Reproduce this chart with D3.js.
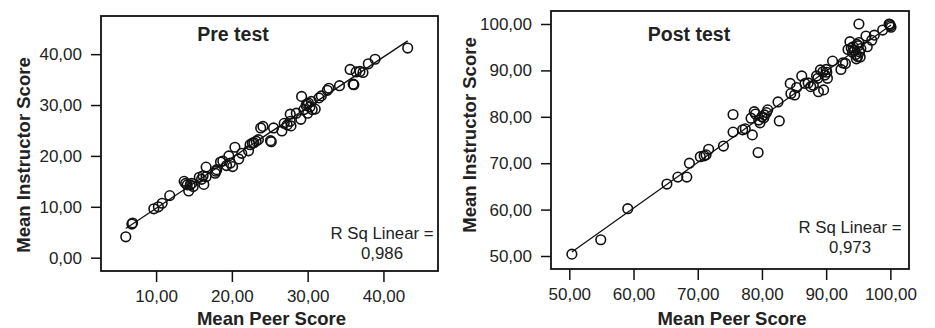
<!DOCTYPE html>
<html>
<head>
<meta charset="utf-8">
<script src="https://cdn.jsdelivr.net/npm/d3@7"></script>
<style>
  body { margin: 0; background: #fff; }
  svg { display: block; }
  text { font-family: "Liberation Sans", Arial, Helvetica, sans-serif; fill: #222; }
</style>
</head>
<body>
<div id="chart"></div>
<script>
// Mean Peer Score vs Mean Instructor Score
const prePoints = [
  [6.0,4.1],[6.8,6.6],[6.9,6.8],[9.7,9.6],[10.3,10.0],[10.8,10.7],[11.8,12.2],
  [13.7,15.0],[13.9,14.6],[14.1,14.3],[14.3,13.1],[14.5,14.3],[14.7,14.6],[14.9,14.0],
  [15.7,15.8],[16.0,15.4],[16.2,16.1],[16.3,14.4],[16.6,15.9],[16.6,17.8],
  [17.8,16.6],[17.9,17.0],[18.0,17.3],[18.5,18.8],[18.8,19.0],[19.3,18.1],[19.6,20.0],
  [19.8,18.6],[20.1,17.9],[20.4,21.7],[20.9,19.4],[21.3,20.5],
  [22.2,21.0],[22.4,22.2],[22.7,22.5],[22.9,22.6],[23.2,22.9],[23.5,23.2],[23.8,25.5],
  [24.1,25.8],[25.1,23.0],[25.2,22.8],[25.5,25.5],
  [26.6,24.9],[26.9,26.4],[27.3,26.1],[27.7,26.8],[27.8,25.9],[27.7,28.2],[28.5,28.4],
  [29.1,27.2],[29.2,31.7],[29.5,29.1],[29.8,29.9],[30.0,28.4],[30.1,30.4],[30.5,30.7],
  [30.6,29.1],[31.0,29.2],[29.9,30.2],[30.3,29.6],
  [31.5,31.4],[31.8,31.8],[32.6,32.9],[32.8,33.3],[34.2,33.8],[35.6,37.0],[36.0,34.1],
  [36.1,34.0],[36.4,36.5],[36.9,36.6],[37.3,36.4],[38.0,38.1],[38.9,39.0],[43.2,41.2]
];

const postPoints = [
  [50.4,50.4],[54.9,53.5],[59.1,60.2],[65.2,65.5],[66.9,67.0],[68.3,67.0],[68.7,70.0],
  [70.4,71.4],[71.0,71.6],[71.3,71.8],[71.7,73.0],[74.0,73.7],
  [75.5,80.5],[75.5,76.7],[77.0,77.2],[77.4,77.4],[78.5,76.1],[78.3,79.7],[78.8,81.1],
  [79.0,80.6],[79.4,72.3],[79.7,78.7],[79.5,79.3],[80.0,80.0],[80.4,80.4],[80.7,80.9],
  [80.9,81.5],[80.3,79.8],
  [82.5,83.2],[82.7,79.1],[84.4,87.2],[84.5,85.0],[85.1,84.7],[85.4,86.3],[86.2,88.8],
  [86.7,87.2],[87.2,87.3],[87.6,86.5],[88.0,86.8],[88.5,88.8],[88.7,88.3],[88.8,85.4],
  [89.1,90.1],[89.5,89.7],[89.6,85.8],[90.0,90.2],[90.2,88.3],[89.8,89.0],[90.1,89.6],
  [91.0,92.0],[92.3,90.2],[92.6,91.6],[93.0,91.5],[93.4,94.5],[93.7,96.2],[93.9,94.8],
  [94.2,95.1],[94.4,94.3],[94.6,93.4],[94.7,92.5],[94.9,93.0],[95.0,95.3],[95.1,96.0],
  [95.2,94.0],[95.4,94.7],[94.8,95.6],[95.3,92.9],[94.1,93.9],[95.1,100.0],
  [96.4,95.1],[96.2,97.4],[97.1,96.5],[97.5,97.6],[98.8,98.7],[99.9,99.9],[100.0,99.6],
  [100.1,99.3],[99.8,100.0]
];

const preXTicks = [10, 20, 30, 40];
const preYTicks = [0, 10, 20, 30, 40];
const postXTicks = [50, 60, 70, 80, 90, 100];
const postYTicks = [50, 60, 70, 80, 90, 100];

const preRSq = "0,986";
const postRSq = "0,973";

const xTitle = "Mean Peer Score";
const yTitle = "Mean Instructor Score";

const width = 935, height = 328;

const locale = d3.formatLocale({ decimal: ",", thousands: ".", grouping: [3], currency: ["", ""] });
const fmt = locale.format(".2f");

const svg = d3.select("#chart").append("svg")
  .attr("width", width)
  .attr("height", height);

// least squares fit, drawn between min and max x like SPSS does
function fitLine(points) {
  const mx = d3.mean(points, d => d[0]);
  const my = d3.mean(points, d => d[1]);
  const sxy = d3.sum(points, d => (d[0] - mx) * (d[1] - my));
  const sxx = d3.sum(points, d => (d[0] - mx) * (d[0] - mx));
  const b = sxy / sxx, a = my - b * mx;
  const [x0, x1] = d3.extent(points, d => d[0]);
  return [[x0, a + b * x0], [x1, a + b * x1]];
}

function drawPanel(p) {
  const x = d3.scaleLinear().domain(p.xDomain).range([p.left, p.right]);
  const y = d3.scaleLinear().domain(p.yDomain).range([p.bottom, p.top]);

  const g = svg.append("g");

  g.append("g")
    .attr("transform", "translate(" + p.left + ",0)")
    .call(d3.axisLeft(y).tickValues(p.yTicks).tickFormat(fmt).tickSize(10).tickPadding(9))
    .call(a => a.select(".domain").remove())
    .call(a => a.selectAll("line").attr("stroke", "#111").attr("stroke-width", 1.5))
    .call(a => a.selectAll("text").style("font-size", "17px").attr("fill", "#222"));

  g.append("g")
    .attr("transform", "translate(0," + p.bottom + ")")
    .call(d3.axisBottom(x).tickValues(p.xTicks).tickFormat(fmt).tickSize(11).tickPadding(7.5))
    .call(a => a.select(".domain").remove())
    .call(a => a.selectAll("line").attr("stroke", "#111").attr("stroke-width", 1.5))
    .call(a => a.selectAll("text").style("font-size", "17px").attr("fill", "#222"));

  g.append("rect")
    .attr("x", p.left).attr("y", p.top)
    .attr("width", p.right - p.left).attr("height", p.bottom - p.top)
    .attr("fill", "none").attr("stroke", "#111").attr("stroke-width", 1.8);

  const fit = fitLine(p.points);
  g.append("path")
    .datum(fit)
    .attr("d", d3.line().x(d => x(d[0])).y(d => y(d[1])))
    .attr("fill", "none").attr("stroke", "#111").attr("stroke-width", 1.3);

  g.selectAll(".dot")
    .data(p.points)
    .enter().append("circle")
    .attr("class", "dot")
    .attr("cx", d => x(d[0]))
    .attr("cy", d => y(d[1]))
    .attr("r", 4.8)
    .attr("fill", "none")
    .attr("stroke", "#111")
    .attr("stroke-width", 1.6);

  g.append("text")
    .attr("x", p.titleX).attr("y", 41)
    .attr("text-anchor", "middle")
    .style("font-size", "19.5px").style("font-weight", "bold")
    .text(p.title);

  g.append("text")
    .attr("x", p.rsqX).attr("y", p.rsqY)
    .attr("text-anchor", "middle")
    .style("font-size", "16.8px")
    .text("R Sq Linear =");
  g.append("text")
    .attr("x", p.rsqX).attr("y", p.rsqY + 19.5)
    .attr("text-anchor", "middle")
    .style("font-size", "16.8px")
    .text(p.rsq);

  g.append("text")
    .attr("x", (p.left + p.right) / 2 + 2).attr("y", 325)
    .attr("text-anchor", "middle")
    .style("font-size", "18.5px").style("font-weight", "bold")
    .text(xTitle);

  g.append("text")
    .attr("transform", "translate(" + p.yTitleX + "," + p.yTitleY + ") rotate(-90)")
    .attr("text-anchor", "middle")
    .style("font-size", "18.5px").style("font-weight", "bold")
    .text(yTitle);
}

drawPanel({
  points: prePoints, xTicks: preXTicks, yTicks: preYTicks,
  xDomain: [2.73, 47.2], yDomain: [-2.62, 47.5],
  left: 101, right: 438, top: 16, bottom: 271,
  title: "Pre test", titleX: 233, rsq: preRSq, rsqX: 382, rsqY: 239,
  yTitleX: 30, yTitleY: 155
});

drawPanel({
  points: postPoints, xTicks: postXTicks, yTicks: postYTicks,
  xDomain: [47.15, 102.9], yDomain: [47.2, 102.8],
  left: 551, right: 909, top: 11, bottom: 269,
  title: "Post test", titleX: 689, rsq: postRSq, rsqX: 850, rsqY: 233,
  yTitleX: 476, yTitleY: 135
});
</script>
</body>
</html>
